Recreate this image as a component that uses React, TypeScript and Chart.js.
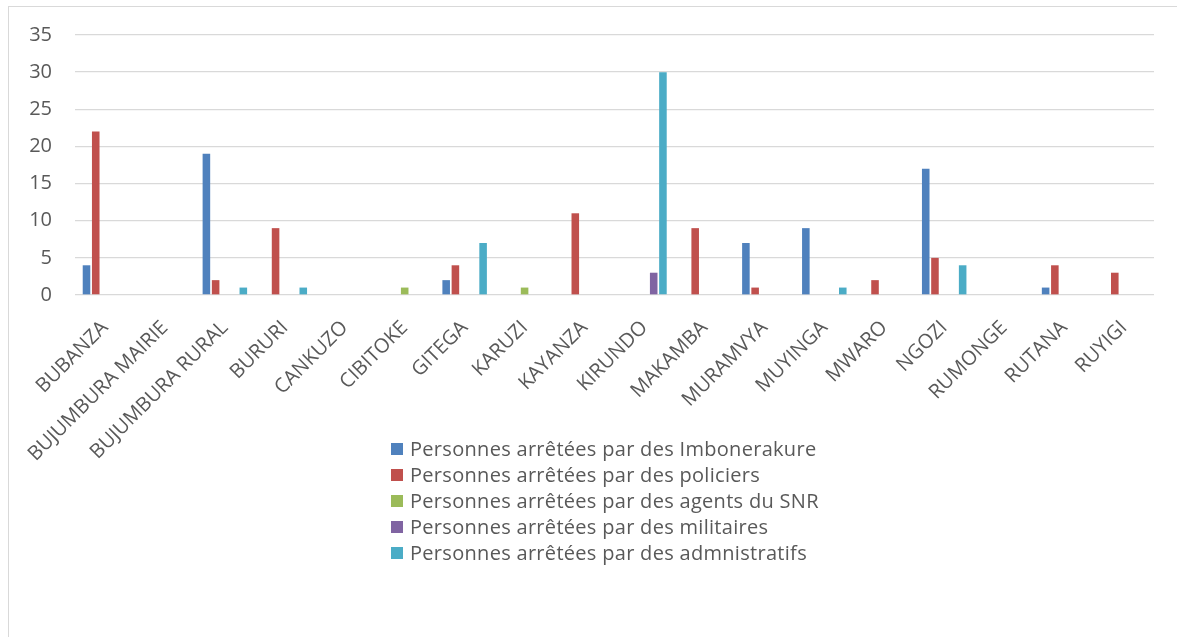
import React, { useEffect, useRef } from "react";
import { Chart, registerables } from "chart.js";

Chart.register(...registerables);

const categories = [
  "BUBANZA", "BUJUMBURA MAIRIE", "BUJUMBURA RURAL", "BURURI", "CANKUZO", "CIBITOKE",
  "GITEGA", "KARUZI", "KAYANZA", "KIRUNDO", "MAKAMBA", "MURAMVYA", "MUYINGA",
  "MWARO", "NGOZI", "RUMONGE", "RUTANA", "RUYIGI",
];

const imbonerakure = [4, 0, 19, 0, 0, 0, 2, 0, 0, 0, 0, 7, 9, 0, 17, 0, 1, 0];
const policiers = [22, 0, 2, 9, 0, 0, 4, 0, 11, 0, 9, 1, 0, 2, 5, 0, 4, 3];
const agentsSNR = [0, 0, 0, 0, 0, 1, 0, 1, 0, 0, 0, 0, 0, 0, 0, 0, 0, 0];
const militaires = [0, 0, 0, 0, 0, 0, 0, 0, 0, 3, 0, 0, 0, 0, 0, 0, 0, 0];
const administratifs = [0, 0, 1, 1, 0, 0, 7, 0, 0, 30, 0, 0, 1, 0, 4, 0, 0, 0];

const seriesLabels = [
  "Personnes arrêtées par des Imbonerakure",
  "Personnes arrêtées par des policiers",
  "Personnes arrêtées par des agents du SNR",
  "Personnes arrêtées par des militaires",
  "Personnes arrêtées par des admnistratifs",
];
const seriesColors = ["#4F81BD", "#C0504D", "#9BBB59", "#8064A2", "#4BACC6"];
const yTicks = [0, 5, 10, 15, 20, 25, 30, 35];

const FONT = "'Open Sans', Lato, sans-serif";
const TEXT = "#595959";

const legendPlugin = {
  id: "excelLegend",
  afterDraw(chart: any) {
    const ctx = chart.ctx;
    ctx.save();
    ctx.font = `20px ${FONT}`;
    try {
      (ctx as any).letterSpacing = "0.3px";
    } catch (e) {}
    ctx.textBaseline = "middle";
    ctx.textAlign = "left";
    const left = 391;
    const top = 449;
    const step = 26;
    chart.data.datasets.forEach((ds: any, i: number) => {
      const y = top + i * step;
      ctx.fillStyle = ds.backgroundColor;
      ctx.fillRect(left, y - 6, 12, 12);
      ctx.fillStyle = TEXT;
      ctx.fillText(ds.label, left + 19, y + 1);
    });
    try {
      (ctx as any).letterSpacing = "0px";
    } catch (e) {}
    ctx.restore();
  },
};

export default function App() {
  const ref = useRef<HTMLCanvasElement | null>(null);

  useEffect(() => {
    if (!ref.current) return;
    const data = [imbonerakure, policiers, agentsSNR, militaires, administratifs];
    const chart = new Chart(ref.current, {
      type: "bar",
      data: {
        labels: categories,
        datasets: data.map((d, i) => ({
          label: seriesLabels[i],
          data: d,
          backgroundColor: seriesColors[i],
          borderWidth: 0,
          categoryPercentage: 0.77,
          barPercentage: 0.82,
        })),
      },
      plugins: [legendPlugin],
      options: {
        animation: false,
        responsive: false,
        maintainAspectRatio: false,
        layout: { padding: { left: 0, top: 35, right: 23, bottom: 172 } },
        plugins: {
          legend: { display: false },
          tooltip: { enabled: false },
        },
        scales: {
          x: {
            grid: { display: false, drawTicks: false },
            border: { display: false },
            ticks: {
              autoSkip: false,
              maxRotation: 45,
              minRotation: 45,
              padding: 21,
              labelOffset: 0,
              color: TEXT,
              font: { family: FONT, size: 20 },
            },
            afterFit(scale: any) {
              scale.height = 170;
              scale.paddingLeft = 0;
              scale.paddingRight = 0;
            },
          },
          y: {
            min: 0,
            max: 35,
            afterBuildTicks(scale: any) {
              scale.ticks = yTicks.map((v) => ({ value: v }));
            },
            grid: { color: "#D9D9D9", lineWidth: 1.3, drawTicks: false },
            border: { display: false },
            ticks: {
              padding: 23,
              color: TEXT,
              font: { family: FONT, size: 20 },
            },
            afterFit(scale: any) {
              scale.width = 75;
              scale.paddingTop = 0;
              scale.paddingBottom = 0;
            },
          },
        },
      },
    });
    return () => chart.destroy();
  }, []);

  return (
    <div
      style={{
        position: "fixed",
        left: 0,
        top: 0,
        width: 1177,
        height: 637,
        overflow: "hidden",
        background: "#ffffff",
      }}
    >
      <div
        style={{
          position: "absolute",
          left: 8,
          top: 6,
          width: 1300,
          height: 800,
          border: "1px solid #D9D9D9",
          boxSizing: "border-box",
        }}
      />
      <canvas
        ref={ref}
        width={1177}
        height={637}
        style={{ position: "absolute", left: 0, top: 0, width: 1177, height: 637 }}
      />
    </div>
  );
}
